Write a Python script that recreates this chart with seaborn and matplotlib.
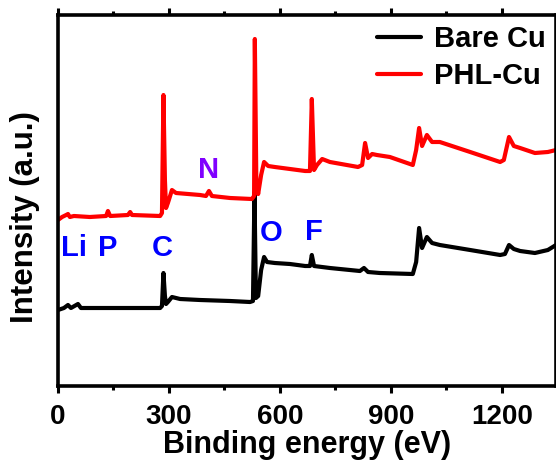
import matplotlib
matplotlib.use("Agg")
import matplotlib.pyplot as plt
import seaborn as sns
import pandas as pd
from matplotlib.ticker import MultipleLocator

# ---- data (binding energy in eV, intensity in a.u.) ----
bare_energy = [0, 16, 27, 35, 54, 62, 114, 222, 276, 281, 285, 289, 292, 297, 308, 330,
               384, 465, 519, 527, 531, 535, 541, 549, 557, 565, 586, 627, 668, 681, 686,
               692, 735, 816, 827, 838, 870, 959, 968, 976, 984, 997, 1011, 1032, 1114,
               1195, 1208, 1219, 1232, 1249, 1289, 1324, 1346]
bare_int = [76, 78, 81, 78, 82, 78, 78, 78, 78, 80, 113, 90, 82, 84, 89, 87,
            86, 85, 84, 85, 194, 88, 90, 116, 129, 124, 123, 122, 120, 120, 131,
            120, 118, 115, 118, 114, 113, 112, 124, 158, 138, 149, 143, 141, 136,
            131, 132, 141, 137, 135, 133, 136, 141]

phl_energy = [0, 11, 22, 27, 32, 43, 86, 130, 135, 141, 189, 195, 200, 276, 281, 285,
              289, 292, 297, 308, 319, 384, 400, 408, 416, 465, 524, 530, 532, 536,
              541, 549, 557, 568, 586, 627, 668, 681, 686, 692, 700, 714, 735, 811,
              822, 830, 838, 849, 862, 897, 959, 968, 976, 984, 997, 1011, 1032, 1114,
              1195, 1205, 1219, 1232, 1249, 1289, 1324, 1346]
phl_int = [166, 169, 171, 172, 169, 170, 169, 170, 175, 170, 171, 174, 171, 170, 173, 291,
           206, 178, 183, 196, 193, 191, 190, 195, 190, 188, 187, 190, 347, 206,
           192, 211, 224, 220, 219, 217, 215, 215, 287, 216, 221, 227, 224, 219,
           221, 243, 228, 232, 231, 229, 221, 236, 258, 240, 251, 244, 244, 234,
           224, 226, 249, 240, 238, 233, 234, 236]

series_names = ["Bare Cu", "PHL-Cu"]
series_colors = ["#000000", "#ff0000"]

labels = ["Li", "P", "C", "N", "O", "F"]
label_x = [43, 135, 281, 408, 576, 692]
label_y = [138, 138, 138, 216, 153, 154]
label_colors = ["#0000ff", "#0000ff", "#0000ff", "#8000ff", "#0000ff", "#0000ff"]

xticks = [0, 300, 600, 900, 1200]

df = pd.concat([
    pd.DataFrame({"Binding energy": bare_energy, "Intensity": bare_int, "Sample": series_names[0]}),
    pd.DataFrame({"Binding energy": phl_energy, "Intensity": phl_int, "Sample": series_names[1]}),
], ignore_index=True)

sns.set_style("ticks")
plt.rcParams["font.family"] = ["Liberation Sans", "DejaVu Sans"]
plt.rcParams["font.weight"] = "bold"
plt.rcParams["text.color"] = "black"
plt.rcParams["axes.labelcolor"] = "black"
plt.rcParams["xtick.color"] = "black"
plt.rcParams["axes.edgecolor"] = "black"

fig = plt.figure(figsize=(5.56, 4.62), dpi=100)
ax = fig.add_axes([58 / 556, 1 - 386 / 462, 1 - 58 / 556, (386 - 15) / 462])

sns.lineplot(data=df, x="Binding energy", y="Intensity", hue="Sample",
             palette=dict(zip(series_names, series_colors)), estimator=None,
             sort=False, linewidth=3.0, ax=ax)

for t, x, y, c in zip(labels, label_x, label_y, label_colors):
    ax.text(x, y, t, color=c, fontsize=21, fontweight="bold", ha="center", va="center")

ax.set_xlim(0, 1346)
ax.set_ylim(0, 371)
ax.set_xticks(xticks)
ax.xaxis.set_minor_locator(MultipleLocator(150))
ax.set_yticks([])
ax.tick_params(axis="x", which="major", direction="out", length=5, width=2.2,
               labelsize=20, top=True, pad=8, colors="black")
ax.tick_params(axis="x", which="minor", direction="out", length=3, width=2.2, top=True,
               colors="black")
for lab in ax.get_xticklabels():
    lab.set_fontweight("bold")
for s in ax.spines.values():
    s.set_linewidth(2.6)
    s.set_color("black")
    s.set_visible(True)

ax.set_xlabel("Binding energy (eV)", fontsize=22, fontweight="bold", color="black")
ax.xaxis.set_label_coords(0.5, -(453 - 386) / 371, transform=ax.transAxes)
ax.xaxis.label.set_va("baseline")
ax.set_ylabel("Intensity (a.u.)", fontsize=22.5, fontweight="bold", color="black")
ax.yaxis.set_label_coords(-(58 - 25) / 498, (386 - 217) / 371, transform=ax.transAxes)
ax.yaxis.label.set_va("center")

leg = ax.legend(loc="upper right", frameon=False, fontsize=21, handlelength=1.5,
                handletextpad=0.45, borderaxespad=0.25, borderpad=0.1, labelspacing=0.3)
for line in leg.get_lines():
    line.set_linewidth(3.0)
for txt in leg.get_texts():
    txt.set_fontweight("bold")
    txt.set_color("black")

fig.savefig("out.png", dpi=100)
